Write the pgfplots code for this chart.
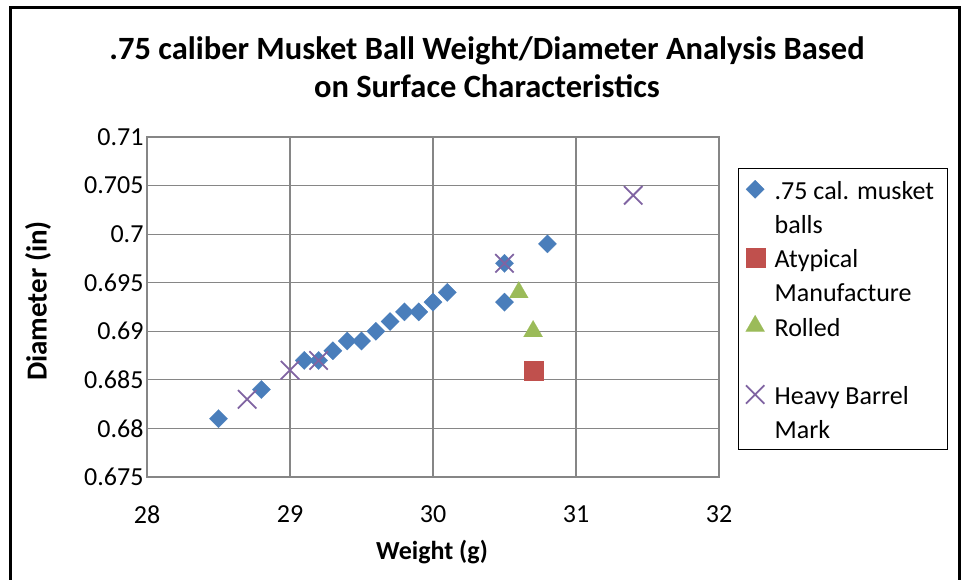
\documentclass[border=0pt]{standalone}
\usepackage{fontspec}
\setmainfont{Carlito}
\usepackage{pgfplots}
\pgfplotsset{compat=1.18}
\definecolor{serA}{RGB}{74,126,187}
\definecolor{serB}{RGB}{192,80,77}
\definecolor{serC}{RGB}{155,187,89}
\definecolor{serD}{RGB}{128,100,162}
\definecolor{gridc}{RGB}{134,134,134}
\newcommand{\lt}[1]{\makebox[172pt][l]{\hspace{8pt}\strut #1}}
\begin{document}
\begin{tikzpicture}[x=1pt,y=1pt]
\useasboundingbox (0,0) rectangle (963,579);
\draw[line width=3pt] (10,-10) -- (10,571) -- (959,571) -- (959,-10);
\node[font=\fontsize{32.5}{38}\selectfont\bfseries, align=center] at (487,512) {.75 caliber Musket Ball Weight/Diameter Analysis Based\\on Surface Characteristics};
\node[font=\fontsize{26}{31}\selectfont\bfseries] at (432,27) {Weight (g)};
\node[font=\fontsize{29}{34}\selectfont\bfseries, rotate=90] at (38,278) {Diameter (in)};
\begin{axis}[at={(147pt,102pt)}, anchor=south west, width=572pt, height=340pt, scale only axis,
  xmin=28, xmax=32, ymin=0.675, ymax=0.71,
  xtick={28,29,30,31,32}, xticklabels={28,29,30,31,32},
  ytick={0.675,0.68,0.685,0.69,0.695,0.7,0.705,0.71},
  yticklabels={0.675,0.68,0.685,0.69,0.695,0.7,0.705,0.71},
  grid=major, major grid style={gridc, line width=1.2pt},
  axis line style={gridc, line width=1.2pt},
  major tick length=0pt,
  tick label style={font=\fontsize{26}{31}\selectfont},
  xticklabel style={yshift=-25pt},
  legend style={at={(1.033,0.909)}, anchor=north west, draw=black, line width=1.5pt,
    font=\fontsize{26}{31}\selectfont, row sep=7pt, inner sep=7pt,
    cells={anchor=west, inner ysep=0pt}},
  legend cell align=left,
  clip=false,
]
\addplot[only marks, mark=square*, mark size=6.5pt, mark options={rotate=45, fill=serA, draw=serA, line width=0.1pt}] coordinates {
 (28.5,0.681) (28.8,0.684) (29.1,0.687) (29.2,0.687) (29.3,0.688) (29.4,0.689) (29.5,0.689)
 (29.6,0.690) (29.7,0.691) (29.8,0.692) (29.9,0.692) (30.0,0.693) (30.1,0.694)
 (30.5,0.697) (30.5,0.693) (30.8,0.699)};
\addlegendentry{\lt{.75 cal. musket}}
\addlegendimage{empty legend}
\addlegendentry{\lt{balls}}
\addplot[only marks, mark=square*, mark size=9.5pt, mark options={fill=serB, draw=serB, line width=0.1pt}] coordinates {(30.7,0.686)};
\addlegendentry{\lt{Atypical}}
\addlegendimage{empty legend}
\addlegendentry{\lt{Manufacture}}
\addplot[only marks, mark=triangle*, mark size=11pt, mark options={fill=serC, draw=serC, line width=0.1pt}] coordinates {(30.6,0.694) (30.7,0.690)};
\addlegendentry{\lt{Rolled}}
\addlegendimage{empty legend}
\addlegendentry{\lt{}}
\addplot[only marks, mark=x, mark size=13pt, mark options={draw=serD, line width=1.8pt}] coordinates {(28.7,0.683) (29.0,0.686) (29.2,0.687) (30.5,0.697) (31.4,0.704)};
\addlegendentry{\lt{Heavy Barrel}}
\addlegendimage{empty legend}
\addlegendentry{\lt{Mark}}
\end{axis}
\end{tikzpicture}
\end{document}
